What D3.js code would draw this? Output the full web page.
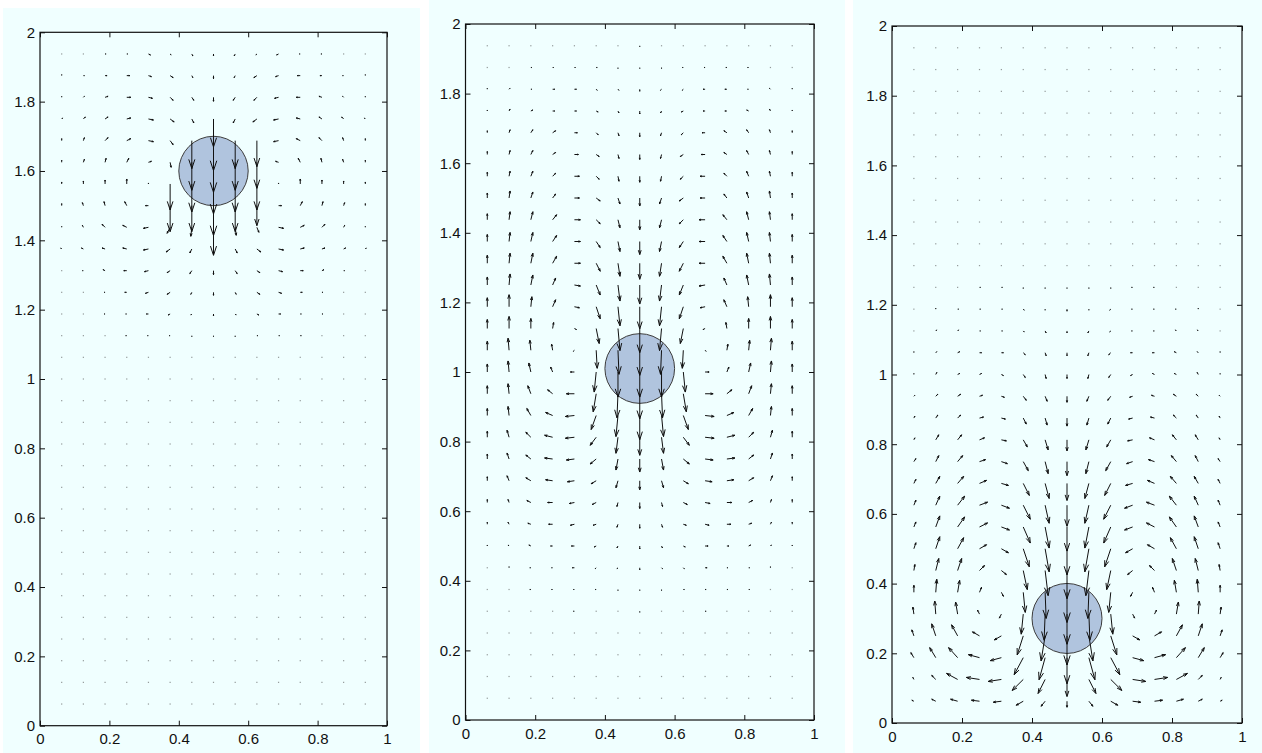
<!DOCTYPE html>
<html><head><meta charset="utf-8">
<script src="https://cdn.jsdelivr.net/npm/d3@7"></script>
<style>html,body{margin:0;padding:0;background:#fff;} svg{display:block;}</style>
</head><body><svg id="chart" width="1262" height="753"></svg>
<script>
// grid nodes (columns left->right, rows top->bottom)
const xs = [0.0625,0.125,0.1875,0.25,0.3125,0.375,0.4375,0.5,0.5625,0.625,0.6875,0.75,0.8125,0.875,0.9375];
const ys = [1.9375,1.875,1.8125,1.75,1.6875,1.625,1.5625,1.5,1.4375,1.375,1.3125,1.25,1.1875,1.125,1.0625,1,0.9375,0.875,0.8125,0.75,0.6875,0.625,0.5625,0.5,0.4375,0.375,0.3125,0.25,0.1875,0.125,0.0625];
const xTicks = [0,0.2,0.4,0.6,0.8,1];
const xTickLabels = ["0","0.2","0.4","0.6","0.8","1"];
const yTicks = [0,0.2,0.4,0.6,0.8,1,1.2,1.4,1.6,1.8,2];
const yTickLabels = ["0","0.2","0.4","0.6","0.8","1","1.2","1.4","1.6","1.8","2"];
const sphereX = [0.5,0.5,0.5];
const sphereY = [1.6,1.01,0.3];
const sphereR = 0.1;
const Z = [0,0,0,0,0,0,0,0,0,0,0,0,0,0,0];

// panel 1 (sphere at 1.6) velocity components, rows top->bottom
const U1 = [
[0,0,1,1,2,1,1,0,-1,-1,-2,-1,-1,0,0],
[0,1,2,3,3,3,1,0,-1,-3,-3,-3,-2,-1,0],
[0,1,3,4,4,3,2,0,-2,-3,-4,-4,-3,-1,0],
[1,2,3,4,5,4,2,0,-2,-4,-5,-4,-3,-2,-1],
[0,1,3,4,5,3,0,0,0,0,-5,-4,-3,-1,0],
[0,1,1,2,3,1,0,0,0,0,-3,-2,-1,-1,0],
[0,0,0,0,0,0,0,0,0,0,0,0,0,0,0],
[0,-1,-1,-2,-3,0,0,0,0,0,3,2,1,1,0],
[0,-1,-3,-4,-5,-3,-1,0,1,2,5,4,3,1,0],
[-1,-2,-3,-4,-5,-4,-2,0,2,4,5,4,3,2,1],
[0,-1,-2,-3,-4,-3,-2,0,2,3,4,3,2,1,0],
[0,0,-1,-2,-3,-3,-1,0,1,3,3,2,1,0,0],
[0,0,-1,-1,-2,-2,-1,0,1,2,2,1,1,0,0],
[0,0,0,-1,-1,-1,0,0,0,1,1,1,0,0,0],
Z,Z,Z,Z,Z,Z,Z,Z,Z,Z,Z,Z,Z,Z,Z,Z,Z
];
const V1 = [
[0,0,0,0,-1,-1,-2,-2,-2,-1,-1,0,0,0,0],
[1,0,0,0,-1,-2,-2,-3,-2,-2,-1,0,0,0,1],
[1,1,1,0,-1,-3,-3,-4,-3,-3,-1,0,1,1,1],
[1,2,2,1,-1,-3,-4,-28,-4,-3,-1,1,2,2,1],
[2,3,3,2,-1,-4,-28,-30,-28,-26,-1,2,3,3,2],
[2,3,4,4,1,-5,-28,-30,-28,-26,1,4,4,3,2],
[2,3,4,5,1,-26,-28,-30,-28,-26,1,5,4,3,2],
[2,3,4,4,0,-26,-26,-30,-26,-20,0,4,4,3,2],
[1,2,3,2,-1,-6,-9,-28,-8,-5,-1,2,3,2,1],
[1,1,1,1,-1,-3,-4,-5,-4,-3,-1,1,1,1,1],
[0,0,1,0,-1,-2,-3,-4,-3,-2,-1,0,1,0,0],
[0,0,0,0,-1,-2,-2,-3,-2,-2,-1,0,0,0,0],
[0,0,0,0,0,-1,-1,-2,-1,-1,0,0,0,0,0],
[0,0,0,0,0,0,-1,-1,-1,0,0,0,0,0,0],
Z,Z,Z,Z,Z,Z,Z,Z,Z,Z,Z,Z,Z,Z,Z,Z,Z
];

// panel 2 (sphere at 1.01)
const U2 = [
Z,
[0,0,1,1,1,1,0,0,0,-1,-1,-1,-1,0,0],
[0,1,1,2,2,1,1,0,-1,-1,-2,-2,-1,-1,0],
[0,1,2,2,2,2,1,0,-1,-2,-2,-2,-2,-1,0],
[0,1,2,3,3,2,1,0,-1,-2,-3,-3,-2,-1,0],
[0,1,2,3,4,3,1,0,-1,-3,-4,-3,-2,-1,0],
[0,1,2,3,5,3,1,0,-1,-3,-5,-3,-2,-1,0],
[0,1,2,3,5,4,2,0,-2,-4,-5,-3,-2,-1,0],
[0,1,2,4,6,4,2,0,-2,-4,-6,-4,-2,-1,0],
[0,1,2,4,6,4,2,0,-2,-4,-6,-4,-2,-1,0],
[0,1,2,4,6,4,2,0,-2,-4,-6,-4,-2,-1,0],
[0,1,2,3,6,4,2,0,-2,-4,-6,-3,-2,-1,0],
[0,0,1,3,5,4,2,0,-2,-4,-5,-3,-1,0,0],
[0,0,0,1,2,3,2,0,-2,-3,-2,-1,0,0,0],
[0,-1,-1,-1,-1,1,1,0,-1,-1,1,1,1,1,0],
[0,-1,-2,-2,-4,-2,0,0,0,2,4,2,2,1,0],
[0,-1,-3,-5,-8,-3,-1,0,1,3,8,5,3,1,0],
[0,-1,-4,-7,-9,-5,-2,0,2,5,9,7,4,1,0],
[0,-2,-5,-8,-9,-6,-2,0,2,6,9,8,5,2,0],
[0,-2,-5,-8,-8,-6,-2,0,2,6,8,8,5,2,0],
[0,-2,-5,-7,-7,-5,-2,0,2,5,7,7,5,2,0],
[0,-1,-4,-5,-5,-4,-1,0,1,4,5,5,4,1,0],
[0,-1,-3,-4,-4,-3,-1,0,1,3,4,4,3,1,0],
[0,-1,-2,-2,-3,-2,-1,0,1,2,3,2,2,1,0],
[0,0,-1,-1,-2,-1,-1,0,1,1,2,1,1,0,0],
[0,0,-1,-1,-1,-1,0,0,0,1,1,1,1,0,0],
[0,0,0,0,-1,0,0,0,0,0,1,0,0,0,0],
Z,Z,Z,Z
];
const V2 = [
[0,0,0,0,0,0,0,-1,0,0,0,0,0,0,0],
[0,0,0,0,0,0,-1,-1,-1,0,0,0,0,0,0],
[1,1,0,0,0,-1,-1,-2,-1,-1,0,0,0,1,1],
[1,2,1,0,0,-1,-2,-3,-2,-1,0,0,1,2,1],
[2,3,3,2,0,-2,-3,-4,-3,-2,0,2,3,3,2],
[3,4,4,2,0,-2,-4,-5,-4,-2,0,2,4,4,3],
[4,5,5,3,0,-3,-5,-6,-5,-3,0,3,5,5,4],
[5,7,6,4,0,-3,-6,-8,-6,-3,0,4,6,7,5],
[6,8,8,5,0,-4,-8,-10,-8,-4,0,5,8,8,6],
[7,9,9,6,0,-6,-10,-13,-10,-6,0,6,9,9,7],
[8,10,10,7,0,-8,-13,-16,-13,-8,0,7,10,10,8],
[8,11,10,7,-1,-10,-16,-19,-16,-10,-1,7,10,11,8],
[9,12,10,7,-1,-12,-19,-22,-19,-12,-1,7,10,12,9],
[9,12,10,6,-1,-15,-22,-24,-22,-15,-1,6,10,12,9],
[9,12,10,6,-1,-18,-24,-25,-24,-18,-1,6,10,12,9],
[8,11,9,5,0,-20,-25,-25,-25,-20,0,5,9,11,8],
[8,10,8,4,0,-18,-24,-25,-24,-18,0,4,8,10,8],
[7,9,7,3,-1,-14,-21,-24,-21,-14,-1,3,7,9,7],
[6,7,5,2,-1,-8,-16,-18,-16,-8,-1,2,5,7,6],
[5,6,4,1,-1,-5,-11,-13,-11,-5,-1,1,4,6,5],
[4,5,3,1,-1,-3,-7,-9,-7,-3,-1,1,3,5,4],
[3,3,2,0,-1,-2,-4,-6,-4,-2,-1,0,2,3,3],
[2,2,1,0,-1,-1,-3,-4,-3,-1,-1,0,1,2,2],
[1,1,1,0,0,-1,-2,-3,-2,-1,0,0,1,1,1],
[0,1,0,0,0,-1,-1,-2,-1,-1,0,0,0,1,0],
[0,0,0,0,0,0,-1,-1,-1,0,0,0,0,0,0],
[0,0,0,0,0,0,0,-1,0,0,0,0,0,0,0],
Z,Z,Z,Z
];

// panel 3 (sphere at 0.3)
const U3 = [
Z,Z,Z,Z,Z,Z,Z,Z,Z,Z,Z,
[0,0,0,1,1,0,0,0,0,0,-1,-1,0,0,0],
[0,0,1,1,1,1,0,0,0,-1,-1,-1,-1,0,0],
[0,1,1,1,1,1,1,0,-1,-1,-1,-1,-1,-1,0],
[0,1,2,2,2,2,1,0,-1,-2,-2,-2,-2,-1,0],
[0,1,2,2,2,2,1,0,-1,-2,-2,-2,-2,-1,0],
[1,2,3,3,3,3,2,0,-2,-3,-3,-3,-3,-2,-1],
[1,2,3,4,4,3,2,0,-2,-3,-4,-4,-3,-2,-1],
[1,3,4,5,5,4,3,0,-3,-4,-5,-5,-4,-3,-1],
[2,3,5,6,6,5,3,0,-3,-5,-6,-6,-5,-3,-2],
[2,4,6,7,7,6,4,0,-4,-6,-7,-7,-6,-4,-2],
[2,4,7,8,8,7,4,0,-4,-7,-8,-8,-7,-4,-2],
[2,4,7,8,8,7,4,0,-4,-7,-8,-8,-7,-4,-2],
[2,4,6,7,7,6,4,0,-4,-6,-7,-7,-6,-4,-2],
[1,3,4,5,5,4,3,0,-3,-4,-5,-5,-4,-3,-1],
[0,1,2,2,2,2,1,0,-1,-2,-2,-2,-2,-1,0],
[-1,-1,-2,-2,-2,-2,-1,0,1,2,2,2,2,1,1],
[-2,-4,-6,-7,-7,-6,-4,0,4,6,7,7,6,4,2],
[-3,-6,-9,-11,-11,-9,-6,0,6,9,11,11,9,6,3],
[-1,-4,-11,-13,-13,-11,-7,0,7,11,13,13,11,4,1],
[-2,-4,-7,-8,-8,-7,-4,0,4,7,8,8,7,4,2]
];
const V3 = [
Z,Z,Z,Z,Z,Z,Z,Z,Z,Z,Z,
[0,0,0,0,0,-1,-1,-1,-1,-1,0,0,0,0,0],
[0,1,0,0,0,-1,-1,-2,-1,-1,0,0,0,1,0],
[0,1,1,0,0,-1,-2,-2,-2,-1,0,0,1,1,0],
[1,1,1,0,0,-2,-3,-3,-3,-2,0,0,1,1,1],
[1,2,1,1,-1,-3,-4,-4,-4,-3,-1,1,1,2,1],
[1,2,2,1,-1,-4,-5,-6,-5,-4,-1,1,2,2,1],
[2,3,3,1,-1,-6,-7,-8,-7,-6,-1,1,3,3,2],
[2,5,5,2,-1,-7,-10,-11,-10,-7,-1,2,5,5,2],
[3,6,6,2,-2,-9,-12,-14,-12,-9,-2,2,6,6,3],
[4,7,7,3,-2,-12,-15,-17,-15,-12,-2,3,7,7,4],
[5,9,9,3,-3,-14,-18,-21,-18,-14,-3,3,9,9,5],
[5,11,10,4,-3,-16,-21,-24,-21,-16,-3,4,10,11,5],
[6,12,11,4,-4,-18,-23,-26,-23,-18,-4,4,11,12,6],
[6,12,12,5,-4,-19,-25,-28,-25,-19,-4,5,12,12,6],
[7,13,12,5,-4,-20,-26,-30,-26,-20,-4,5,12,13,7],
[7,13,12,4,-4,-20,-26,-30,-26,-20,-4,4,12,13,7],
[6,12,11,4,-4,-19,-25,-29,-25,-19,-4,4,11,12,6],
[5,10,10,3,-3,-17,-22,-26,-22,-17,-3,3,10,10,5],
[2,4,6,2,-2,-11,-14,-17,-14,-11,-2,2,6,4,2],
[1,2,2,1,-1,-4,-5,-6,-5,-4,-1,1,2,2,1]
];

const arrowUnit = 1/347; // data length per velocity unit
const svg = d3.select("#chart");
const font = "'Liberation Sans', Arial, Helvetica, sans-serif";

const panels = [
  {bg:[3,8,417,745],   xr:[40,387],    yr:[725.7,32.3], U:U1, V:V1, k:0},
  {bg:[429,0,416,753], xr:[465.5,814], yr:[720,24],     U:U2, V:V2, k:1},
  {bg:[853,0,409,753], xr:[892,1242],  yr:[723,26],     U:U3, V:V3, k:2}
];

panels.forEach(p => {
  const g = svg.append("g");
  g.append("rect").attr("x",p.bg[0]).attr("y",p.bg[1]).attr("width",p.bg[2]).attr("height",p.bg[3]).attr("fill","#f0ffff");
  const x = d3.scaleLinear().domain([0,1]).range(p.xr);
  const y = d3.scaleLinear().domain([0,2]).range(p.yr);

  // sphere
  g.append("circle")
    .attr("cx", x(sphereX[p.k])).attr("cy", y(sphereY[p.k]))
    .attr("r", x(sphereR) - x(0))
    .attr("fill","#b0c4de").attr("stroke","#3c3c3c").attr("stroke-width",1);

  // vectors
  const cells = [];
  ys.forEach((yy,i) => xs.forEach((xx,j) => cells.push({x:xx, y:yy, u:p.U[i][j], v:p.V[i][j]})));
  const dots = cells.filter(d => d.u === 0 && d.v === 0);
  const arrows = cells.filter(d => !(d.u === 0 && d.v === 0));

  g.append("g").selectAll("rect").data(dots).join("rect")
    .attr("x", d => x(d.x) - 0.6).attr("y", d => y(d.y) - 0.6)
    .attr("width",1.2).attr("height",1.2).attr("fill","#555").attr("opacity",0.6);

  g.append("g").selectAll("path").data(arrows).join("path")
    .attr("d", d => {
      const x0 = x(d.x), y0 = y(d.y);
      const x1 = x(d.x + d.u*arrowUnit), y1 = y(d.y + d.v*arrowUnit);
      const dx = x1 - x0, dy = y1 - y0;
      const a = 0.33, b = 0.33;
      const hx1 = x1 - a*(dx + b*dy), hy1 = y1 - a*(dy - b*dx);
      const hx2 = x1 - a*(dx - b*dy), hy2 = y1 - a*(dy + b*dx);
      return `M${x0},${y0}L${x1},${y1}M${hx1},${hy1}L${x1},${y1}L${hx2},${hy2}`;
    })
    .attr("fill","none").attr("stroke","#111").attr("stroke-width",1);

  // axes box
  g.append("rect").attr("x",x(0)).attr("y",y(2)).attr("width",x(1)-x(0)).attr("height",y(0)-y(2))
    .attr("fill","none").attr("stroke","#111").attr("stroke-width",1.2);

  const style = s => s.attr("font-size",15).attr("font-family",font).attr("color","#111")
                      .call(a => a.select(".domain").remove());
  g.append("g").attr("transform",`translate(0,${y(0)})`)
    .call(d3.axisBottom(x).tickValues(xTicks).tickFormat((d,i)=>xTickLabels[i]).tickSize(-5).tickPadding(8)).call(style);
  g.append("g").attr("transform",`translate(0,${y(2)})`)
    .call(d3.axisTop(x).tickValues(xTicks).tickFormat("").tickSize(-5)).call(style);
  g.append("g").attr("transform",`translate(${x(0)},0)`)
    .call(d3.axisLeft(y).tickValues(yTicks).tickFormat((d,i)=>yTickLabels[i]).tickSize(-5).tickPadding(5)).call(style);
  g.append("g").attr("transform",`translate(${x(1)},0)`)
    .call(d3.axisRight(y).tickValues(yTicks).tickFormat("").tickSize(-5)).call(style);
});
</script>
</body></html>
